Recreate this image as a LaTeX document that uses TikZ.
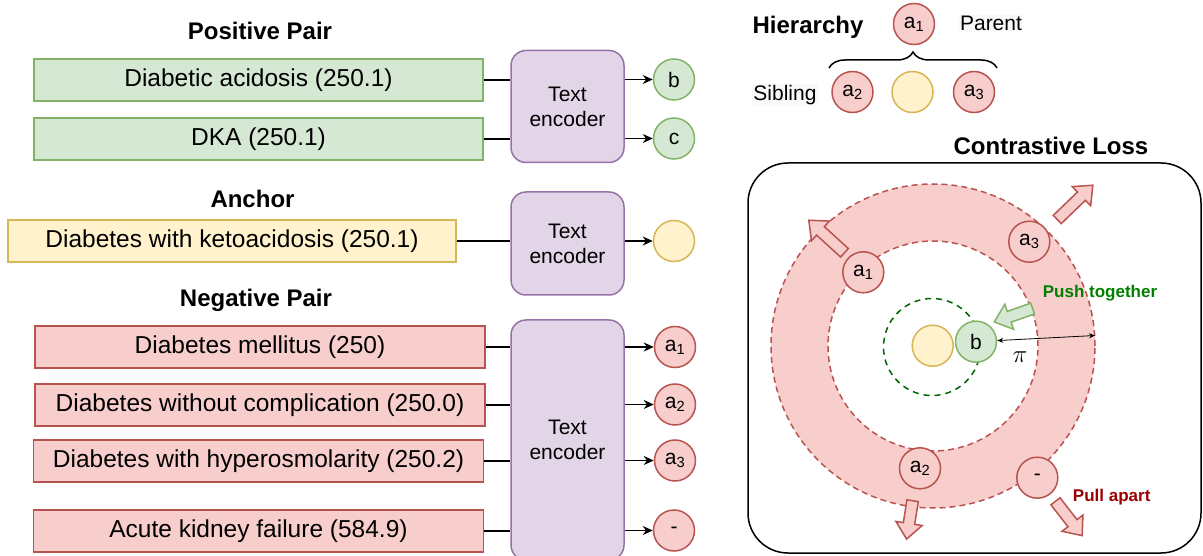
\documentclass[tikz,border=0pt]{standalone}
\usepackage{fontspec}
\setmainfont{Liberation Sans}
\usetikzlibrary{arrows.meta,shapes.arrows,decorations.pathreplacing}
\definecolor{greenfill}{HTML}{D5E8D4}
\definecolor{greenline}{HTML}{82B366}
\definecolor{yellowfill}{HTML}{FFF2CC}
\definecolor{yellowline}{HTML}{D6B656}
\definecolor{redfill}{HTML}{F8CECC}
\definecolor{redline}{HTML}{B85450}
\definecolor{purplefill}{HTML}{E1D5E7}
\definecolor{purpleline}{HTML}{9673A6}
\definecolor{pushgreen}{HTML}{008000}
\definecolor{orbitgreen}{HTML}{006600}
\definecolor{pullred}{HTML}{990000}
\definecolor{labelbg}{HTML}{F8F9FA}

\begin{document}
\begin{tikzpicture}
          [x=1pt, y=-1pt,
          font=\fontsize{24.5}{29}\selectfont,
          titletext/.style={font=\fontsize{24}{28}\selectfont\bfseries},
          smalltext/.style={font=\fontsize{21}{25}\selectfont},
          inbox/.style={shape=rectangle, line width=1.5pt, minimum height=42pt, inner sep=0pt},
          posbox/.style={inbox, draw=greenline, fill=greenfill, minimum width=449pt},
          ancbox/.style={inbox, draw=yellowline, fill=yellowfill, minimum width=448pt},
          negbox/.style={inbox, draw=redline, fill=redfill, minimum width=450pt},
          encoder/.style={shape=rectangle, rounded corners=15pt, draw=purpleline, fill=purplefill, line width=1.5pt, minimum width=113pt, align=center, smalltext},
          emb/.style={shape=circle, line width=1.5pt, minimum size=41pt, inner sep=0pt, smalltext},
          bemb/.style={emb, draw=greenline, fill=greenfill},
          yemb/.style={emb, draw=yellowline, fill=yellowfill},
          remb/.style={emb, draw=redline, fill=redfill},
          tagtext/.style={smalltext, fill=labelbg, inner sep=1pt},
          edge/.style={line width=1.5pt},
          arc/.style={->, >={Stealth[length=10pt,width=9pt]}, line width=1.5pt},
          gaparrow/.style={<->, >={Stealth[length=6pt,width=5pt]}, line width=0.8pt},
          bracepath/.style={decorate, decoration={brace, amplitude=16pt}, line width=1.5pt},
          lossframe/.style={shape=rectangle, draw, rounded corners=40pt, line width=1.5pt, minimum width=453pt, minimum height=390pt},
          orbit/.style={draw=redline, line width=1.5pt, dash pattern=on 6pt off 4pt},
          nearorbit/.style={draw=orbitgreen, line width=1.5pt, dash pattern=on 6pt off 5pt},
          blockarrow/.style={shape=single arrow, anchor=tail, inner sep=0pt, inner ysep=5pt, single arrow head extend=7.5pt, single arrow tip angle=80, line width=1.5pt},
          pullarrow/.style={blockarrow, draw=redline, fill=redfill},
          pusharrow/.style={blockarrow, draw=greenline, fill=greenfill}]

            \useasboundingbox (0,0) rectangle (1203,556);

            \node (postitle) [titletext] at (260,31) {Positive Pair};
            \node (p1) [posbox] at (258.5,80) {Diabetic acidosis (250.1)};
            \node (p2) [posbox] at (258.5,139) {DKA (250.1)};
            \node (enc1) [encoder, minimum height=112pt] at (567.5,106.5) {Text\\encoder};
            \node (b) [bemb] at (674,79.5) {b};
            \node (c) [bemb] at (674,138.5) {c};

            \node (anctitle) [titletext] at (252.5,199) {Anchor};
            \node (a0) [ancbox] at (232,241) {Diabetes with ketoacidosis (250.1)};
            \node (enc2) [encoder, minimum height=103pt] at (567.5,243.5) {Text\\encoder};
            \node (y) [yemb] at (674,241) {};

            \node (negtitle) [titletext] at (256,300) {Negative Pair};
            \node (n1) [negbox] at (260,347) {Diabetes mellitus (250)};
            \node (n2) [negbox] at (260,405) {Diabetes without complication (250.0)};
            \node (n3) [negbox] at (258.5,461) {Diabetes with hyperosmolarity (250.2)};
            \node (n4) [negbox] at (258.5,531) {Acute kidney failure (584.9)};
            \node (enc3) [encoder, minimum height=240pt] at (567.5,440) {Text\\encoder};
            \node (a1) [remb] at (675,347) {a\textsubscript{1}};
            \node (a2) [remb] at (675,404.5) {a\textsubscript{2}};
            \node (a3) [remb] at (675,460.5) {a\textsubscript{3}};
            \node (an) [remb] at (674,530.5) {-};

            \draw [edge] (p1.east) -- (p1.east -| enc1.west);
            \draw [edge] (p2.east) -- (p2.east -| enc1.west);
            \draw [edge] (a0.east) -- (a0.east -| enc2.west);
            \draw [edge] (n1.east) -- (n1.east -| enc3.west);
            \draw [edge] (n2.east) -- (n2.east -| enc3.west);
            \draw [edge] (n3.east) -- (n3.east -| enc3.west);
            \draw [edge] (n4.east) -- (n4.east -| enc3.west);
            \draw [arc] (enc1.east |- b) -- (b);
            \draw [arc] (enc1.east |- c) -- (c);
            \draw [arc] (enc2.east |- y) -- (y);
            \draw [arc] (enc3.east |- a1) -- (a1);
            \draw [arc] (enc3.east |- a2) -- (a2);
            \draw [arc] (enc3.east |- a3) -- (a3);
            \draw [arc] (enc3.east |- an) -- (an);

            \node (hiertitle) [titletext] at (808,27) {Hierarchy};
            \node (pa1) [remb] at (914,24) {a\textsubscript{1}};
            \node (parent) [tagtext] at (991,23) {Parent};
            \node (sibling) [tagtext] at (785,95) {Sibling};
            \node (sa2) [remb] at (852.5,92) {a\textsubscript{2}};
            \node (sy) [yemb] at (912.5,92) {};
            \node (sa3) [remb] at (974,92) {a\textsubscript{3}};
            \coordinate (bl) at (829,68);
            \coordinate (br) at (997,68);
            \draw [bracepath] (bl) -- (br);

            \node (losstitle) [titletext] at (1051,146) {Contrastive Loss};
            \node (lossbox) [lossframe] at (974.5,358) {};
            \coordinate (ctr) at (933,346);
            \coordinate (rim) at (1095,335.5);
            \fill [redfill, even odd rule] (ctr) circle [radius=162pt] (ctr) circle [radius=105pt];
            \draw [orbit] (ctr) circle [radius=162pt];
            \draw [orbit] (ctr) circle [radius=105pt];
            \draw [nearorbit] (932,347) circle [radius=48.5pt];

            \node (pull1) [pullarrow, rotate=137.6, minimum height=48.3pt] at (845,253.3) {};
            \node (pull3) [pullarrow, rotate=43.9, minimum height=49.4pt] at (1056.7,220) {};
            \node (pull2) [pullarrow, rotate=-98.9, minimum height=38.8pt] at (912.7,500) {};
            \node (pull4) [pullarrow, rotate=-52.1, minimum height=43.5pt] at (1055,500.7) {};
            \node (push1) [pusharrow, rotate=199.3, minimum height=40.6pt] at (1033.3,308.3) {};

            \node (anchor) [yemb] at (932.7,345.7) {};
            \node (pb) [bemb] at (976,341.7) {b};
            \node (ra1) [remb] at (863.3,272.3) {a\textsubscript{1}};
            \node (ra3) [remb] at (1029.3,241.7) {a\textsubscript{3}};
            \node (ra2) [remb] at (920,468.3) {a\textsubscript{2}};
            \node (rneg) [remb] at (1037.3,477.7) {-};

            \draw [gaparrow] (pb) -- (rim);
            \node (pi) [font=\fontsize{27}{30}\selectfont] at (1020,357) {$\pi$};
            \node (push) [font=\fontsize{17}{20}\selectfont\bfseries, text=pushgreen] at (1100,293) {Push together};
            \node (pull) [font=\fontsize{17}{20}\selectfont\bfseries, text=pullred] at (1111.7,497.3) {Pull apart};

        \end{tikzpicture}
\end{document}
